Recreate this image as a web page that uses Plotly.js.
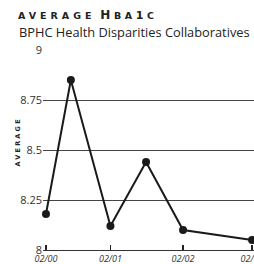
<!DOCTYPE html>
<html><head><meta charset="utf-8">
<script src="https://cdn.plot.ly/plotly-3.0.1.min.js"></script>
<style>html,body{margin:0;padding:0;overflow:hidden;background:#fff}#c{width:280px;height:275px}</style>
</head><body><div id="c"></div>
<script>
// Data
const dates = ['2000-03-14', '2000-07-17', '2001-02-01', '2001-07-30', '2002-02-01', '2003-01-14'];
const avgHbA1c = [8.18, 8.85, 8.12, 8.44, 8.10, 8.05];
const tickDates = ['2000-03-14', '2001-02-01', '2002-02-01', '2003-01-14'];
const tickLabels = ['02/00', '02/01', '02/02', '02/03'];
const yTicks = [8, 8.25, 8.5, 8.75, 9];
const yTickLabels = ['8', '8.25', '8.5', '8.75', '9'];

const W = 280, H = 275;
const L = 43, T = 50, B = 25, R = 16;
const PW = W - L - R, PH = H - T - B;

const trace = {
  x: dates, y: avgHbA1c, type: 'scatter', mode: 'lines+markers',
  line: {color: '#1a1a1a', width: 2},
  marker: {color: '#1a1a1a', size: 8},
  cliponaxis: false, hoverinfo: 'skip'
};

const layout = {
  width: W, height: H,
  margin: {l: L, r: R, t: T, b: B, pad: 0},
  paper_bgcolor: '#fff', plot_bgcolor: '#fff',
  showlegend: false,
  font: {family: 'Open Sans, sans-serif', color: '#333'},
  title: {
    text: '<span style="letter-spacing:4px">AVERAGE</span>\u2002<span style="letter-spacing:3.6px"><span style="font-size:12px">H</span>BA<span style="font-size:11px">1</span>C</span>',
    font: {family: 'DejaVu Sans', size: 9.5, color: '#222', weight: 'bold'},
    xref: 'container', yref: 'container', x: 18 / W, xanchor: 'left',
    y: 1 - 16 / H, yanchor: 'middle'
  },
  annotations: [{
    text: 'BPHC Health Disparities Collaboratives',
    xref: 'paper', yref: 'paper',
    x: (17 - L) / PW, xanchor: 'left',
    y: (T + PH - 32 + 50 - T) / PH, yanchor: 'middle',
    showarrow: false,
    font: {family: 'Open Sans', size: 12.8, color: '#222'}
  }, {
    text: '<span style="letter-spacing:2.2px">AVERAGE</span>',
    xref: 'paper', yref: 'paper', textangle: -90,
    x: (17.5 - L) / PW, xanchor: 'center',
    y: (250 - 142) / PH, yanchor: 'middle',
    showarrow: false,
    font: {family: 'DejaVu Sans', size: 6.5, color: '#222', weight: 'bold'}
  }],
  xaxis: {
    type: 'date', range: ['2000-02-28', '2003-03-15'],
    tickvals: tickDates, ticktext: tickLabels,
    showgrid: false, zeroline: false,
    showline: true, linecolor: '#333', linewidth: 1,
    ticks: 'inside', ticklen: 5, tickwidth: 1.5, tickcolor: '#222',
    tickfont: {family: 'Open Sans', size: 9, color: '#333', style: 'italic'}
  },
  yaxis: {
    range: [8, 9], tickvals: yTicks, ticktext: yTickLabels,
    showgrid: true, gridcolor: '#444', gridwidth: 1,
    zeroline: false, showline: false, ticks: '',
    tickfont: {family: 'Open Sans', size: 11, color: '#333'}
  }
};

Plotly.newPlot('c', [trace], layout, {displayModeBar: false, staticPlot: true});
</script></body></html>
